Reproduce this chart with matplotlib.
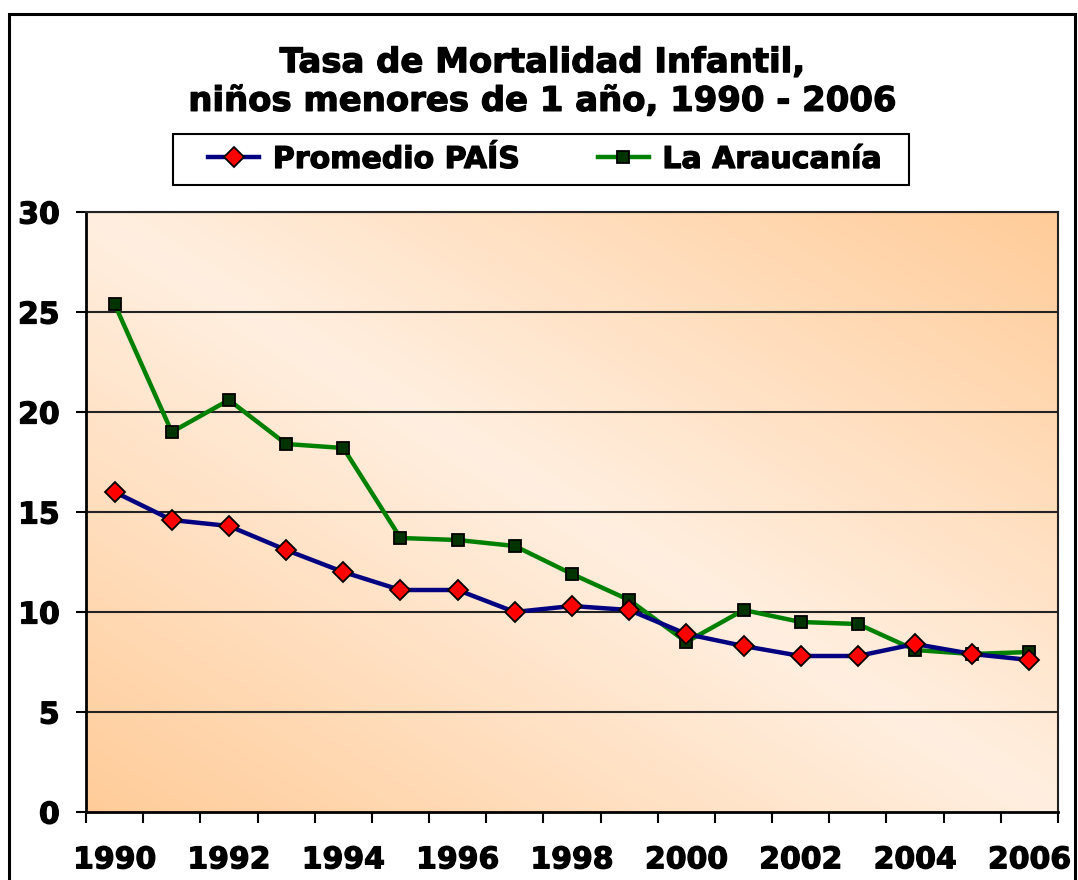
import numpy as np
import matplotlib
matplotlib.use("Agg")
import matplotlib.pyplot as plt
import matplotlib.patheffects as pe
from matplotlib.lines import Line2D
from matplotlib.patches import Rectangle

years = list(range(1990, 2007))
pais = [16.0, 14.6, 14.3, 13.1, 12.0, 11.1, 11.1, 10.0, 10.3, 10.1, 8.9, 8.3, 7.8, 7.8, 8.4, 7.9, 7.6]
araucania = [25.4, 19.0, 20.6, 18.4, 18.2, 13.7, 13.6, 13.3, 11.9, 10.6, 8.5, 10.1, 9.5, 9.4, 8.1, 7.9, 8.0]
yticks = [0, 5, 10, 15, 20, 25, 30]
xlabels = [str(y) for y in years[::2]]
title = "Tasa de Mortalidad Infantil,\nniños menores de 1 año, 1990 - 2006"
series_names = ["Promedio PAÍS", "La Araucanía"]

plt.rcParams['font.family'] = ['DejaVu Sans']
plt.rcParams['font.weight'] = 'bold'

W, H = 1078, 880
fig = plt.figure(figsize=(W / 100, H / 100), dpi=100)
fig.patch.set_facecolor('white')

heavy = [pe.withStroke(linewidth=0.9, foreground='black')]

L, R, T, B = 86, 1058, 212, 812
ax = fig.add_axes([L / W, 1 - B / H, (R - L) / W, (B - T) / H])

# gradient background
nx, ny = 400, 250
u = np.linspace(0, 1, nx)[None, :]
v = np.linspace(1, 0, ny)[:, None]
g = np.abs(u + v - 1)
dark = np.array([255, 204, 153]) / 255
light = np.array([255, 239, 224]) / 255
img = light[None, None, :] * (1 - g[..., None]) + dark[None, None, :] * g[..., None]
ax.imshow(img, extent=[0, 1, 0, 1], transform=ax.transAxes, aspect='auto', zorder=0, interpolation='bilinear')

x = np.arange(len(years))
ax.plot(x, pais, color='#000080', lw=3.2, marker='D', ms=10.5, mfc='#FF0000', mec='black', mew=1.3, zorder=4,
        label=series_names[0])
ax.plot(x, araucania, color='#008000', lw=3.2, marker='s', ms=8.5, mfc='#003300', mec='black', mew=1.3, zorder=3,
        label=series_names[1])

ax.set_xlim(-0.5, len(years) - 0.5)
ax.set_ylim(0, 30)
ax.set_autoscale_on(False)

for yv in yticks[1:]:
    ax.axhline(yv, color='#222222', lw=1.5, zorder=1)

ax.set_yticks(yticks)
ax.set_yticklabels([str(t) for t in yticks], fontsize=21.5, fontweight='bold')
ax.tick_params(axis='y', direction='out', length=7, width=1.5, pad=12, color='black')

ax.set_xticks(x[::2])
ax.set_xticklabels(xlabels, fontsize=21.5, fontweight='bold')
ax.set_xticks(np.arange(-0.5, len(years)), minor=True)
ax.tick_params(axis='x', which='major', length=0, pad=24)
ax.tick_params(axis='x', which='minor', direction='out', length=8, width=1.5, color='black')
for lab in ax.get_xticklabels() + ax.get_yticklabels():
    lab.set_path_effects(heavy)

for side in ['left', 'bottom']:
    ax.spines[side].set_linewidth(2)
    ax.spines[side].set_color('black')
for side in ['top', 'right']:
    ax.spines[side].set_linewidth(1.5)
    ax.spines[side].set_color('#222222')

fig.text(542.5 / W, 1 - 82 / H, title, ha='center', va='center', fontsize=24.4, fontweight='bold',
         linespacing=1.22, multialignment='center', path_effects=heavy)

# legend
h1 = Line2D([], [], color='#000080', lw=3.2, marker='D', ms=10.5, mfc='#FF0000', mec='black', mew=1.3)
h2 = Line2D([], [], color='#008000', lw=3.2, marker='s', ms=8.5, mfc='#003300', mec='black', mew=1.3)
leg = fig.legend([h1, h2], series_names, loc='center', bbox_to_anchor=(545 / W, 1 - 159.5 / H), ncol=2,
                 frameon=False, handlelength=1.7, handletextpad=0.45, columnspacing=2.6,
                 prop={'weight': 'bold', 'size': 21.6})
for t in leg.get_texts():
    t.set_path_effects(heavy)
fig.patches.append(Rectangle((173 / W, 1 - 185 / H), (909 - 173) / W, 51 / H, transform=fig.transFigure,
                             fill=False, edgecolor='black', lw=1.5, zorder=5))
# outer chart border
fig.patches.append(Rectangle((9 / W, -0.05), (1075 - 9) / W, 1.05 - 14 / H, transform=fig.transFigure,
                             fill=False, edgecolor='black', lw=2.2, zorder=5, clip_on=False))

fig.savefig('out.png', dpi=100)
